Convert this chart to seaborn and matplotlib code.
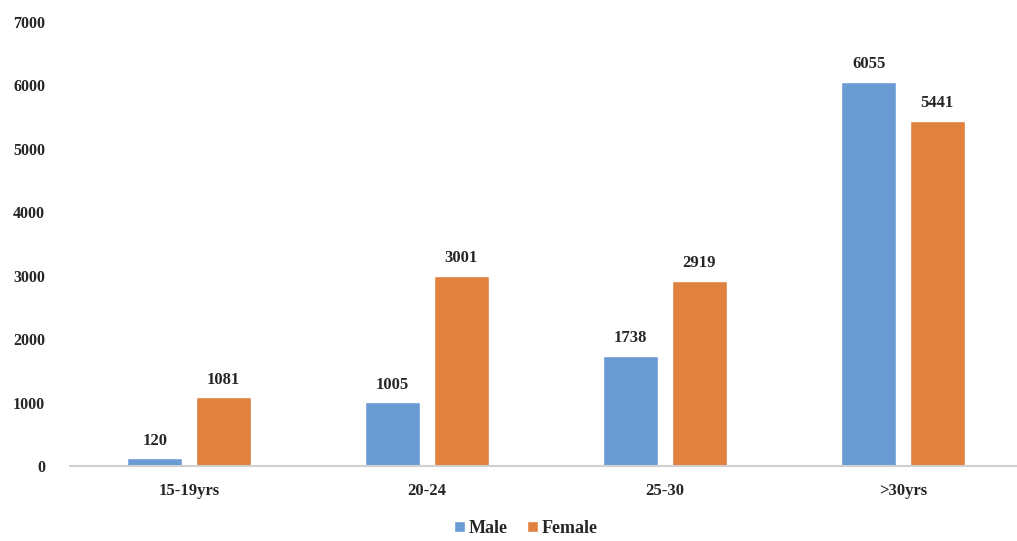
import seaborn as sns
import matplotlib.pyplot as plt
import pandas as pd

groups = ["15-19yrs", "20-24", "25-30", ">30yrs"]
male = [120, 1005, 1738, 6055]
female = [1081, 3001, 2919, 5441]

df = pd.DataFrame({
    "Age": groups * 2,
    "Count": male + female,
    "Sex": ["Male"] * 4 + ["Female"] * 4,
})

sns.set_style("white")
plt.rcParams["font.family"] = ["Liberation Serif", "DejaVu Serif"]
plt.rcParams["font.weight"] = "bold"

fig = plt.figure(figsize=(10.17, 5.41), dpi=100)
ax = fig.add_axes([70 / 1017, 75 / 541, 952 / 1017, 444 / 541])

sns.barplot(data=df, x="Age", y="Count", hue="Sex",
            palette=["#6A9BD2", "#E08140"], width=0.576, gap=0.2,
            saturation=1, ax=ax)

for c in ax.containers:
    ax.bar_label(c, padding=7, fontsize=12, fontweight="bold", color="#262626")

ax.set_ylim(0, 7000)
ax.set_yticks(range(0, 7001, 1000))
ax.set_xlabel("")
ax.set_ylabel("")
ax.tick_params(axis="y", length=0, pad=18, labelsize=11.5, labelcolor="#262626")
ax.tick_params(axis="x", length=0, pad=12, labelsize=12, labelcolor="#262626")
for s in ["top", "right", "left"]:
    ax.spines[s].set_visible(False)
ax.spines["bottom"].set_color("#D0D0D0")
ax.spines["bottom"].set_linewidth(1.5)

handles, labels = ax.get_legend_handles_labels()
ax.legend_.remove()
fig.legend(handles, labels, loc="lower center", bbox_to_anchor=(0.517, -0.022),
           ncol=2, frameon=False, fontsize=13, handlelength=0.6, handleheight=0.6,
           handletextpad=0.2, columnspacing=1.1)

fig.savefig("out.png", dpi=100)
